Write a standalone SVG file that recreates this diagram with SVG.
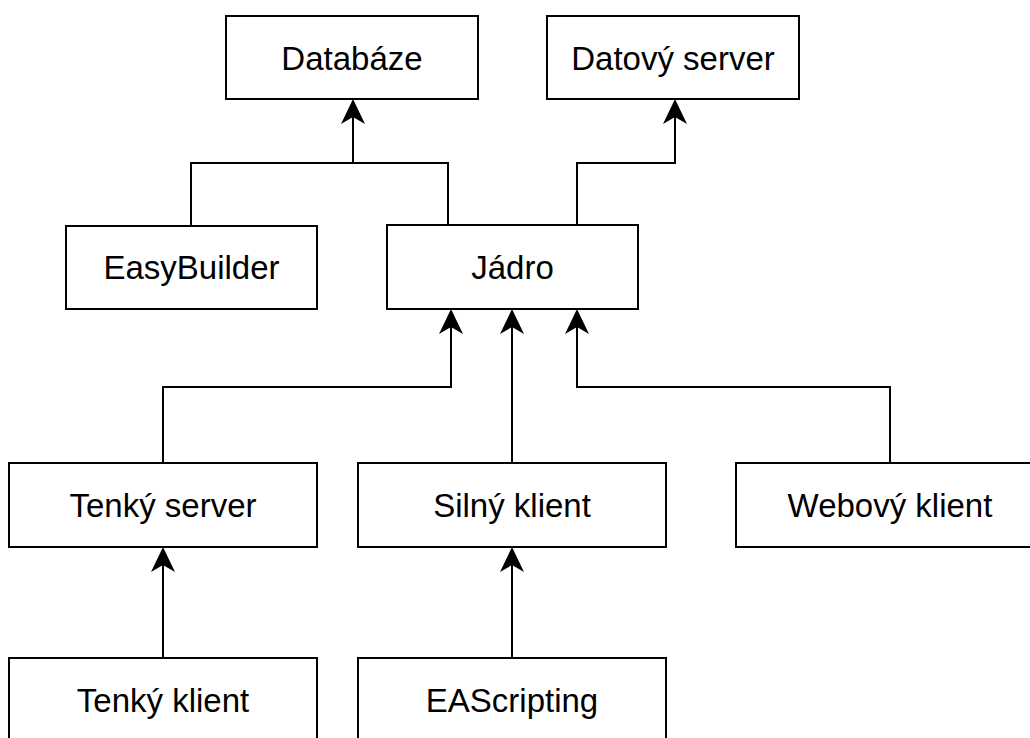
<svg xmlns="http://www.w3.org/2000/svg" width="1030" height="738" viewBox="0 0 1030 738">
  <style>
    .box { fill: #ffffff; stroke: #000000; stroke-width: 2; }
    .lbl { font-family: "Liberation Sans", Arial, Helvetica, sans-serif; font-size: 33px; fill: #000000; text-anchor: middle; }
    .edge { fill: none; stroke: #000000; stroke-width: 2; }
  </style>
  <defs>
    <marker id="arrow" viewBox="-26 -13 28 26" markerWidth="28" markerHeight="26" markerUnits="userSpaceOnUse" refX="-10" refY="0" orient="auto">
      <path d="M0,0 L-25,-12 L-18,0 L-25,12 Z" fill="#000000"/>
    </marker>
  </defs>
  <rect width="1030" height="738" fill="#ffffff"/>

  <g id="connectors">
    <path class="edge" d="M191,226 V163 H353 V109" marker-end="url(#arrow)"/>
    <path class="edge" d="M448,225 V163 H353"/>
    <path class="edge" d="M577,225 V163 H675 V109" marker-end="url(#arrow)"/>
    <path class="edge" d="M163,463 V387 H451 V319" marker-end="url(#arrow)"/>
    <path class="edge" d="M512,463 V319" marker-end="url(#arrow)"/>
    <path class="edge" d="M890,463 V387 H577 V319" marker-end="url(#arrow)"/>
    <path class="edge" d="M163,658 V557" marker-end="url(#arrow)"/>
    <path class="edge" d="M512,658 V557" marker-end="url(#arrow)"/>
  </g>

  <g id="node-databaze">
    <rect class="box" x="226" y="16" width="252" height="83"/>
    <text class="lbl" x="352" y="69.5">Databáze</text>
  </g>
  <g id="node-datovy-server">
    <rect class="box" x="547" y="16" width="252" height="83"/>
    <text class="lbl" x="673" y="69.5">Datový server</text>
  </g>
  <g id="node-easybuilder">
    <rect class="box" x="66" y="226" width="251" height="83"/>
    <text class="lbl" x="191.5" y="279">EasyBuilder</text>
  </g>
  <g id="node-jadro">
    <rect class="box" x="387" y="225" width="251" height="84"/>
    <text class="lbl" x="512.5" y="279">Jádro</text>
  </g>
  <g id="node-tenky-server">
    <rect class="box" x="9" y="463" width="308" height="84"/>
    <text class="lbl" x="163" y="517">Tenký server</text>
  </g>
  <g id="node-silny-klient">
    <rect class="box" x="358" y="463" width="308" height="84"/>
    <text class="lbl" x="512" y="517">Silný klient</text>
  </g>
  <g id="node-webovy-klient">
    <rect class="box" x="736" y="463" width="308" height="84"/>
    <text class="lbl" x="890" y="517">Webový klient</text>
  </g>
  <g id="node-tenky-klient">
    <rect class="box" x="9" y="658" width="308" height="84"/>
    <text class="lbl" x="163" y="711.5">Tenký klient</text>
  </g>
  <g id="node-eascripting">
    <rect class="box" x="358" y="658" width="308" height="84"/>
    <text class="lbl" x="512" y="711.5">EAScripting</text>
  </g>
</svg>
